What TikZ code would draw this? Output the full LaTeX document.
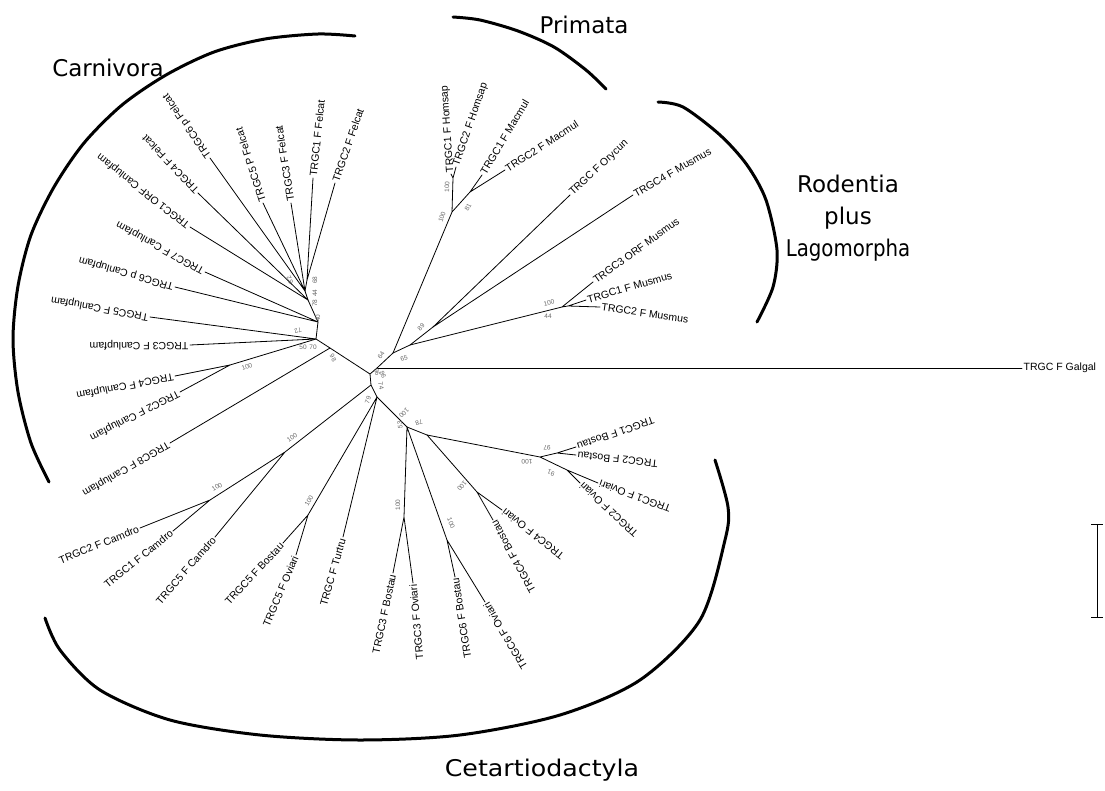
\documentclass[tikz,border=0pt]{standalone}
\usepackage{fontspec}
\setmainfont{Liberation Sans}
\newfontfamily\cladefont{DejaVu Sans}
\tikzset{
	branch/.style={line width=0.8pt, line cap=round},
	leafout/.style={anchor=west, inner sep=1.5pt, font=\fontsize{10.5}{12}\selectfont},
	leafin/.style={anchor=east, inner sep=1.5pt, font=\fontsize{10.5}{12}\selectfont},
	boot/.style={inner sep=0pt, text=black!60, font=\fontsize{6.5}{7}\selectfont},
	cladearc/.style={line width=3pt, line cap=round},
	clade/.style={font=\cladefont\fontsize{23}{32}\selectfont, align=center}
}

\begin{document}
\begin{tikzpicture}[x=1pt, y=-1pt]
	\useasboundingbox (0,0) rectangle (1105,790);
	% inner nodes
	\coordinate (c1) at (370,374);
	\coordinate (g1) at (377,368);
	\coordinate (p1) at (393,353);
	\coordinate (q1) at (410,345);
	\coordinate (r1) at (433,327);
	\coordinate (d1) at (371,385);
	\coordinate (e1) at (377,397);
	\coordinate (h1) at (407,427);
	\coordinate (n1) at (330,348);
	\coordinate (n2) at (316,339);
	\coordinate (n3) at (230,365);
	\coordinate (n4) at (318,322);
	\coordinate (n5) at (308,300);
	\coordinate (n6) at (305,291);
	\coordinate (n7) at (307,280);
	\coordinate (pr1) at (452,212);
	\coordinate (hs1) at (453,178);
	\coordinate (mm1) at (470,192);
	\coordinate (j2) at (562,307);
	\coordinate (j3) at (568,306);
	\coordinate (cd1) at (285,452);
	\coordinate (cd2) at (210,500);
	\coordinate (b5) at (308,515);
	\coordinate (l1) at (404,517);
	\coordinate (m1) at (447,540);
	\coordinate (i1) at (427,435);
	\coordinate (k1) at (477,492);
	\coordinate (j1) at (540,457);
	\coordinate (ja) at (557,453);
	\coordinate (jb) at (567,470);
	% leaves
	\coordinate (can8) at (170,443);
	\coordinate (can2) at (180,392);
	\coordinate (can4) at (175,376);
	\coordinate (can3) at (190,345);
	\coordinate (can5) at (150,317);
	\coordinate (can6) at (175,287);
	\coordinate (can7) at (205,272);
	\coordinate (can1) at (190,227);
	\coordinate (fel4) at (198,193);
	\coordinate (fel6) at (210,158);
	\coordinate (fel5) at (263,203);
	\coordinate (fel3) at (291,203);
	\coordinate (fel1) at (313,178);
	\coordinate (fel2) at (335,183);
	\coordinate (hom1) at (451,174);
	\coordinate (hom2) at (456,167);
	\coordinate (mac1) at (482,175);
	\coordinate (mac2) at (505,170);
	\coordinate (ory) at (570,195);
	\coordinate (mus4) at (633,195);
	\coordinate (mus3) at (593,282);
	\coordinate (mus1) at (586,300);
	\coordinate (mus2) at (600,307);
	\coordinate (gal) at (1022,368);
	\coordinate (camd2) at (140,528);
	\coordinate (camd1) at (173,531);
	\coordinate (camd5) at (215,537);
	\coordinate (bos5) at (283,543);
	\coordinate (ovi5) at (296,555);
	\coordinate (tur) at (343,537);
	\coordinate (bos3) at (393,573);
	\coordinate (ovi3) at (413,583);
	\coordinate (bos6) at (455,577);
	\coordinate (ovi6) at (485,602);
	\coordinate (bos4) at (493,520);
	\coordinate (ovi4) at (502,510);
	\coordinate (bos1) at (576,447);
	\coordinate (bos2) at (576,455);
	\coordinate (ovi1) at (598,483);
	\coordinate (ovi2) at (580,483);
	% branches
	\draw[branch] (c1) -- (g1) -- (p1) -- (q1) -- (r1) (c1) -- (d1) -- (e1) -- (h1);
	\draw[branch] (g1) -- (gal);
	\draw[branch] (c1) -- (n1) -- (n2) -- (n4) -- (n5) -- (n6) -- (n7) (n2) -- (n3);
	\draw[branch] (n1) -- (can8) (n3) -- (can2) (n3) -- (can4) (n2) -- (can3) (n2) -- (can5)
		(n4) -- (can6) (n4) -- (can7) (n5) -- (can1) (n5) -- (fel4) (n6) -- (fel6)
		(n6) -- (fel5) (n6) -- (fel3) (n7) -- (fel1) (n7) -- (fel2);
	\draw[branch] (p1) -- (pr1) -- (hs1) -- (hom1) (hs1) -- (hom2) (pr1) -- (mm1) -- (mac1) (mm1) -- (mac2);
	\draw[branch] (r1) -- (ory) (r1) -- (mus4) (q1) -- (j2) -- (mus3) (j2) -- (j3) -- (mus1) (j3) -- (mus2);
	\draw[branch] (d1) -- (cd1) -- (cd2) -- (camd2) (cd2) -- (camd1) (cd1) -- (camd5);
	\draw[branch] (e1) -- (b5) -- (bos5) (b5) -- (ovi5) (e1) -- (tur);
	\draw[branch] (h1) -- (l1) -- (bos3) (l1) -- (ovi3) (h1) -- (m1) -- (bos6) (m1) -- (ovi6);
	\draw[branch] (h1) -- (i1) -- (k1) -- (bos4) (k1) -- (ovi4);
	\draw[branch] (i1) -- (j1) -- (ja) -- (bos1) (ja) -- (bos2) (j1) -- (jb) -- (ovi1) (jb) -- (ovi2);
	% leaf labels
	\node[leafout, rotate=210](can8t) at (can8) {TRGC8 F Canlupfam};
	\node[leafout, rotate=207](can2t) at (can2) {TRGC2 F Canlupfam};
	\node[leafout, rotate=191](can4t) at (can4) {TRGC4 F Canlupfam};
	\node[leafout, rotate=180](can3t) at (can3) {TRGC3 F Canlupfam};
	\node[leafout, rotate=170](can5t) at (can5) {TRGC5 F Canlupfam};
	\node[leafout, rotate=164](can6t) at (can6) {TRGC6 p Canlupfam};
	\node[leafout, rotate=151](can7t) at (can7) {TRGC7 F Canlupfam};
	\node[leafout, rotate=142](can1t) at (can1) {TRGC1 ORF Canlupfam};
	\node[leafout, rotate=134](fel4t) at (fel4) {TRGC4 F Felcat};
	\node[leafout, rotate=125](fel6t) at (fel6) {TRGC6 p Felcat};
	\node[leafout, rotate=108](fel5t) at (fel5) {TRGC5 P Felcat};
	\node[leafout, rotate=99](fel3t) at (fel3) {TRGC3 F Felcat};
	\node[leafout, rotate=84](fel1t) at (fel1) {TRGC1 F Felcat};
	\node[leafout, rotate=71](fel2t) at (fel2) {TRGC2 F Felcat};
	\node[leafout, rotate=94](hom1t) at (hom1) {TRGC1 F Homsap};
	\node[leafout, rotate=71](hom2t) at (hom2) {TRGC2 F Homsap};
	\node[leafout, rotate=59](mac1t) at (mac1) {TRGC1 F Macmul};
	\node[leafout, rotate=33](mac2t) at (mac2) {TRGC2 F Macmul};
	\node[leafout, rotate=43](oryt) at (ory) {TRGC F Orycun};
	\node[leafout, rotate=30](mus4t) at (mus4) {TRGC4 F Musmus};
	\node[leafout, rotate=36](mus3t) at (mus3) {TRGC3 ORF Musmus};
	\node[leafout, rotate=16](mus1t) at (mus1) {TRGC1 F Musmus};
	\node[leafout, rotate=-8](mus2t) at (mus2) {TRGC2 F Musmus};
	\node[leafout](galt) at (gal) {TRGC F Galgal};
	\node[leafin, rotate=22](camd2t) at (camd2) {TRGC2 F Camdro};
	\node[leafin, rotate=39](camd1t) at (camd1) {TRGC1 F Camdro};
	\node[leafin, rotate=49](camd5t) at (camd5) {TRGC5 F Camdro};
	\node[leafin, rotate=47](bos5t) at (bos5) {TRGC5 F Bostau};
	\node[leafin, rotate=67](ovi5t) at (ovi5) {TRGC5 F Oviari};
	\node[leafin, rotate=74](turt) at (tur) {TRGC F Turtru};
	\node[leafin, rotate=78](bos3t) at (bos3) {TRGC3 F Bostau};
	\node[leafin, rotate=95](ovi3t) at (ovi3) {TRGC3 F Oviari};
	\node[leafin, rotate=99](bos6t) at (bos6) {TRGC6 F Bostau};
	\node[leafin, rotate=121](ovi6t) at (ovi6) {TRGC6 F Oviari};
	\node[leafin, rotate=119](bos4t) at (bos4) {TRGC4 F Bostau};
	\node[leafin, rotate=142](ovi4t) at (ovi4) {TRGC4 F Oviari};
	\node[leafin, rotate=199](bos1t) at (bos1) {TRGC1 F Bostau};
	\node[leafin, rotate=174](bos2t) at (bos2) {TRGC2 F Bostau};
	\node[leafin, rotate=160](ovi1t) at (ovi1) {TRGC1 F Oviari};
	\node[leafin, rotate=137](ovi2t) at (ovi2) {TRGC2 F Oviari};
	% bootstrap values
	\node[boot, rotate=-60](bs1) at (333,358) {98};
	\node[boot](bs2) at (303,347) {50};
	\node[boot](bs3) at (313,347) {70};
	\node[boot, rotate=20](bs4) at (247,367) {100};
	\node[boot, rotate=200](bs5) at (298,331) {72};
	\node[boot, rotate=90](bs6) at (318,318) {40};
	\node[boot, rotate=90](bs7) at (315,303) {78};
	\node[boot, rotate=90](bs8) at (315,293) {44};
	\node[boot, rotate=90](bs9) at (315,280) {68};
	\node[boot, rotate=120](bs10) at (290,280) {82};
	\node[boot, rotate=70](bs11) at (442,217) {100};
	\node[boot, rotate=88](bs12) at (447,187) {100};
	\node[boot, rotate=60](bs13) at (468,207) {81};
	\node[boot, rotate=45](bs14) at (421,327) {89};
	\node[boot, rotate=55](bs15) at (381,355) {64};
	\node[boot, rotate=15](bs16) at (404,358) {65};
	\node[boot, rotate=15](bs17) at (549,303) {100};
	\node[boot](bs18) at (548,316) {44};
	\node[boot, rotate=-75](bs19) at (377,372) {96};
	\node[boot, rotate=-65](bs20) at (383,375) {86};
	\node[boot, rotate=-80](bs21) at (381,386) {74};
	\node[boot, rotate=70](bs22) at (368,400) {79};
	\node[boot, rotate=-135](bs23) at (404,413) {100};
	\node[boot, rotate=95](bs24) at (400,425) {53};
	\node[boot, rotate=195](bs25) at (419,423) {78};
	\node[boot, rotate=90](bs26) at (398,505) {100};
	\node[boot, rotate=-70](bs27) at (451,523) {100};
	\node[boot, rotate=-130](bs28) at (462,486) {100};
	\node[boot, rotate=180](bs29) at (547,448) {97};
	\node[boot, rotate=180](bs30) at (527,462) {100};
	\node[boot, rotate=160](bs31) at (551,473) {91};
	\node[boot, rotate=35](bs32) at (292,438) {100};
	\node[boot, rotate=30](bs33) at (217,487) {100};
	\node[boot, rotate=60](bs34) at (309,501) {100};
	% clade arcs
	\draw[cladearc] plot[smooth] coordinates {(49,482) (31,443) (18,392) (13,339) (18,286) (31,235) (54,187) (84,143) (122,105) (166,75) (214,52) (265,39) (318,34) (355,36)};
	\draw[cladearc] plot[smooth] coordinates {(453,17) (480,20) (518,31) (554,47) (586,70) (606,89)};
	\draw[cladearc] plot[smooth] coordinates {(658,102) (683,107) (720,135) (747,165) (766,200) (777,250) (773,287) (757,322)};
	\draw[cladearc] plot[smooth] coordinates {(45,618) (60,650) (100,690) (170,720) (260,735) (360,740) (460,735) (560,715) (640,680) (700,620) (725,540) (728,507) (715,460)};
	% clade labels
	\node[clade](carn) at (108,68) {Carnivora};
	\node[clade](prim) at (584,25) {Primata};
	\node[clade](rode) at (848,218) {Rodentia\\plus\\\scalebox{0.86}[1]{Lagomorpha}};
	\node[clade](ceta) at (542,770) {\scalebox{1.1}[1]{Cetartiodactyla}};
	% scale bar
	\coordinate (sbtop) at (1097,524);
	\coordinate (sbbot) at (1097,617);
	\draw[line width=1pt] (sbtop) -- (sbbot);
	\draw[line width=1pt] ([xshift=-6pt]sbtop) -- ([xshift=6pt]sbtop);
	\draw[line width=1pt] ([xshift=-6pt]sbbot) -- ([xshift=6pt]sbbot);
	\node[boot, rotate=90](sbt) at (1109,564) {0.1};
\end{tikzpicture}
\end{document}
